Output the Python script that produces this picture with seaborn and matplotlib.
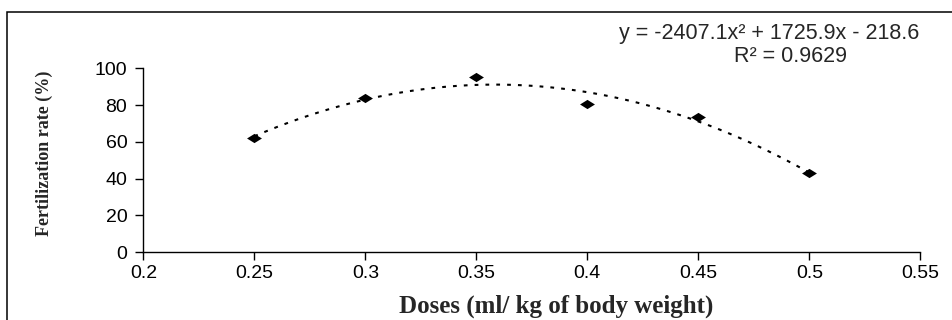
#Fertilization rate vs dose, quadratic trendline
import numpy as np
import matplotlib
matplotlib.use('Agg')
import matplotlib.pyplot as plt
from matplotlib.path import Path
from matplotlib.patches import Rectangle
import seaborn as sns

#values
doses = [0.25, 0.30, 0.35, 0.40, 0.45, 0.50]
fert_rate = [62.0, 83.7, 95.1, 80.8, 73.5, 43.3]
x_ticks = [0.2, 0.25, 0.3, 0.35, 0.4, 0.45, 0.5, 0.55]
x_ticklabels = ['0.2', '0.25', '0.3', '0.35', '0.4', '0.45', '0.5', '0.55']
y_ticks = [0, 20, 40, 60, 80, 100]
eq_text = 'y = -2407.1x\u00b2 + 1725.9x - 218.6'
r2_text = 'R\u00b2 = 0.9629'

sns.set_style('ticks')
plt.rcParams['font.family'] = ['Liberation Sans', 'DejaVu Sans']

fig = plt.figure(figsize=(9.53, 3.2), dpi=100)
ax = fig.add_axes([0.1504, 0.2116, 0.8153, 0.575])

#dotted 2nd order trendline
sns.regplot(x=doses, y=fert_rate, order=2, ci=None, scatter=False, ax=ax,
            line_kws={'color': 'black', 'lw': 1.5, 'ls': (0, (1.8, 3.4))})

#wide diamond markers
diamond = Path([(-1, 0), (0, 0.62), (1, 0), (0, -0.62), (-1, 0)])
sns.scatterplot(x=doses, y=fert_rate, marker=diamond, s=115, color='black',
                edgecolor='black', linewidth=0, zorder=3, ax=ax)

ax.set_xlim(0.2, 0.55)
ax.set_ylim(0, 100)
ax.set_xticks(x_ticks)
ax.set_xticklabels(x_ticklabels)
ax.set_yticks(y_ticks)
sns.despine(ax=ax)
for side in ['left', 'bottom']:
    ax.spines[side].set_linewidth(1.0)
    ax.spines[side].set_color('black')
ax.tick_params(axis='both', length=5.5, width=1.0, color='black',
               labelsize=14, labelcolor='black')
ax.tick_params(axis='x', pad=4)
ax.tick_params(axis='y', pad=6)

ax.set_xlabel('Doses (ml/ kg of body weight)', fontsize=18, fontweight='bold',
              family='Liberation Serif', va='center')
ax.xaxis.set_label_coords(0.5315, -0.292)
ax.set_ylabel('Fertilization rate (%)', fontsize=13, fontweight='bold',
              family='Liberation Serif', va='center')
ax.yaxis.set_label_coords(-0.127, 0.537)

#trendline label, runs toward the right edge like the original
fig.text(619 / 953, 1 - 34 / 320, eq_text, ha='left', va='center', fontsize=15.5)
fig.text(790 / 953, 1 - 56 / 320, r2_text, ha='center', va='center', fontsize=15.5)

#outer frame, cut by the right and bottom edges
frame = Rectangle((7 / 953, -0.2), 1.2, 1.2 - 11.5 / 320, transform=fig.transFigure,
                  fill=False, edgecolor='black', lw=1.1, clip_on=False)
fig.patches.append(frame)

plt.savefig('out.png', dpi=100)
